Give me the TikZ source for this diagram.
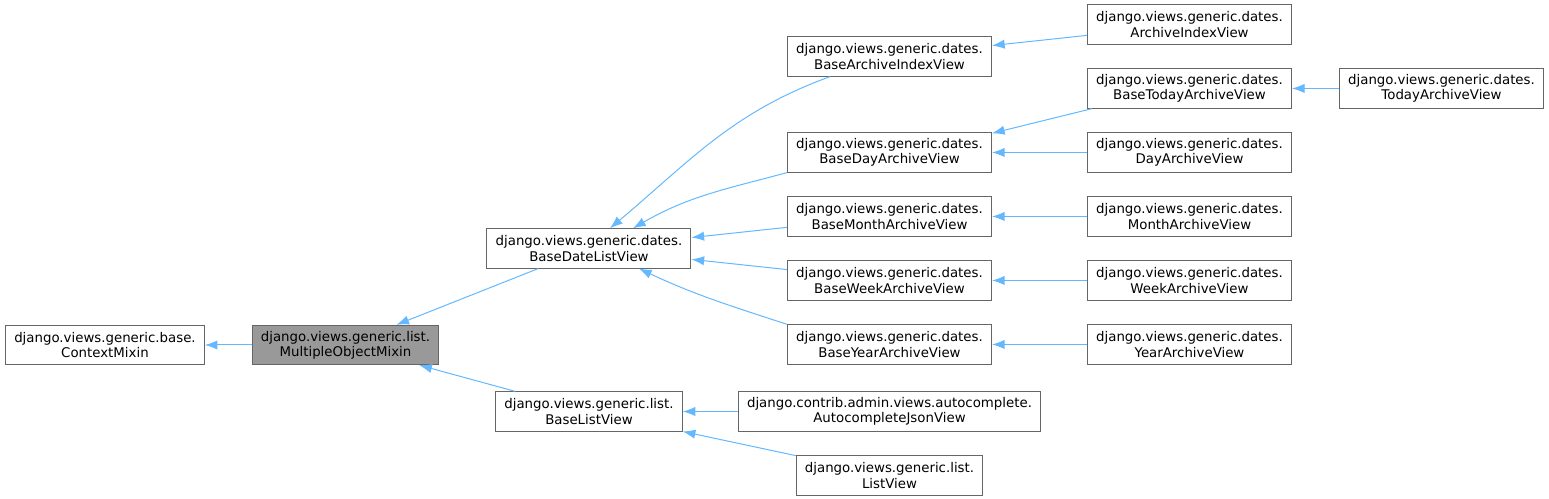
\documentclass[tikz,border=0pt]{standalone}
\usepackage{fontspec}
\setmainfont{DejaVu Sans}
\usepackage{tikz}
\usetikzlibrary{arrows.meta, positioning}
\usepackage{xcolor}
\definecolor{nodegray}{HTML}{666666}
\definecolor{curgray}{HTML}{999999}
\definecolor{edgeblue}{HTML}{63B8FF}
\tikzstyle{cls} = [rectangle, draw=nodegray, fill=white, line width=0.75pt, minimum height=29.5pt, inner xsep=6.5pt, inner ysep=2pt, align=center, font=\fontsize{10pt}{11.5pt}\selectfont]
\tikzstyle{inherit} = [<-, >={Latex[length=9.5pt, width=7pt]}, draw=edgeblue, line width=0.75pt]

\begin{document}
\begin{tikzpicture}[node distance=48pt]
    \useasboundingbox (-259.125pt,258.75pt) rectangle (902.625pt,-115.5pt);

    \node (mom) [cls, fill=curgray] {django.views.generic.list.\\MultipleObjectMixin};
    \node (ctx) [cls, left of=mom, xshift=-132.4pt] {django.views.generic.base.\\ContextMixin};

    \node (bdlv) [cls, right of=mom, xshift=134.6pt, yshift=72.4pt] {django.views.generic.dates.\\BaseDateListView};
    \node (blv) [cls, right of=mom, xshift=134.6pt, yshift=-49.9pt] {django.views.generic.list.\\BaseListView};

    \node (byear) [cls, right of=bdlv, xshift=177.4pt, yshift=-72pt] {django.views.generic.dates.\\BaseYearArchiveView};
    \node (bweek) [cls, above of=byear] {django.views.generic.dates.\\BaseWeekArchiveView};
    \node (bmonth) [cls, above of=bweek] {django.views.generic.dates.\\BaseMonthArchiveView};
    \node (bday) [cls, above of=bmonth] {django.views.generic.dates.\\BaseDayArchiveView};
    \node (bai) [cls, above of=bday, yshift=24pt] {django.views.generic.dates.\\BaseArchiveIndexView};

    \node (autojson) [cls, right of=blv, xshift=177.4pt] {django.contrib.admin.views.autocomplete.\\AutocompleteJsonView};
    \node (listv) [cls, below of=autojson] {django.views.generic.list.\\ListView};

    \node (yearv) [cls, right of=byear, xshift=177pt] {django.views.generic.dates.\\YearArchiveView};
    \node (weekv) [cls, right of=bweek, xshift=177pt] {django.views.generic.dates.\\WeekArchiveView};
    \node (monthv) [cls, right of=bmonth, xshift=177pt] {django.views.generic.dates.\\MonthArchiveView};
    \node (dayv) [cls, right of=bday, xshift=177pt] {django.views.generic.dates.\\DayArchiveView};
    \node (btoday) [cls, above of=dayv] {django.views.generic.dates.\\BaseTodayArchiveView};
    \node (aiv) [cls, above of=btoday] {django.views.generic.dates.\\ArchiveIndexView};
    \node (todayv) [cls, right of=btoday, xshift=141pt] {django.views.generic.dates.\\TodayArchiveView};

    \draw [inherit] (ctx) -- (mom);
    \draw [inherit] (mom) -- (bdlv);
    \draw [inherit] (mom) -- (blv);

    \draw [inherit] ([xshift=15.75pt]bdlv.north) to[out=40, in=200] ([xshift=-44.6pt]bai.south);
    \draw [inherit] ([xshift=33pt]bdlv.north) to[out=30, in=195] (bday.south west);
    \draw [inherit] (bdlv) -- (bmonth);
    \draw [inherit] (bdlv) -- (bweek);
    \draw [inherit] ([xshift=37.5pt]bdlv.south) to[out=-25, in=162] (byear.north west);

    \draw [inherit] (blv) -- (autojson);
    \draw [inherit] (blv) -- (listv);

    \draw [inherit] (bai) -- (aiv);
    \draw [inherit] ([yshift=-0.75pt]bday.north east) -- ([xshift=3.75pt]btoday.south west);
    \draw [inherit] (bday) -- (dayv);
    \draw [inherit] (bmonth) -- (monthv);
    \draw [inherit] (bweek) -- (weekv);
    \draw [inherit] (byear) -- (yearv);
    \draw [inherit] (btoday) -- (todayv);
\end{tikzpicture}
\end{document}
